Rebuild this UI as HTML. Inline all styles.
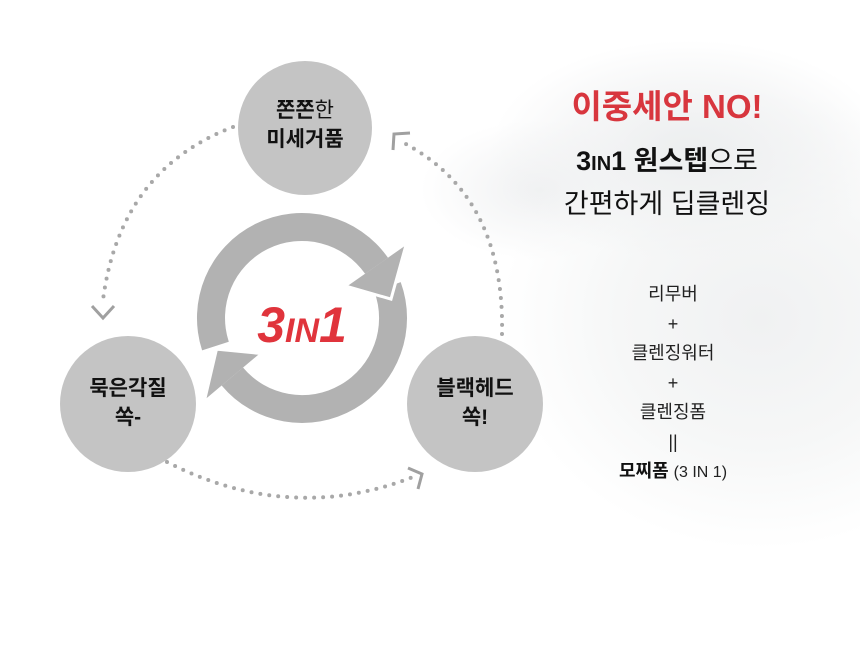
<!DOCTYPE html>
<html><head><meta charset="utf-8"><style>
body{margin:0;width:860px;height:647px;overflow:hidden;background:#fff;font-family:"Liberation Sans","Noto Sans CJK KR",sans-serif;position:relative}
.bg{position:absolute;left:0;top:0;width:860px;height:647px;
background:
radial-gradient(ellipse 200px 110px at 690px 150px,#eceeef 0%,rgba(240,241,242,.6) 60%,rgba(255,255,255,0) 100%),
radial-gradient(ellipse 260px 230px at 760px 320px,#f0f1f2 0%,#f6f7f7 55%,rgba(255,255,255,0) 100%),
radial-gradient(ellipse 120px 70px at 540px 190px,#f0f1f2 0%,rgba(255,255,255,0) 100%);}
.t{position:absolute;width:300px;text-align:center;color:#111;white-space:nowrap}
.c{position:absolute;width:140px;text-align:center;font-weight:bold;font-size:21px;color:#111;line-height:29px}
</style></head><body>
<div class="bg"></div>
<svg width="860" height="647" style="position:absolute;left:0;top:0">
<circle cx="305" cy="128" r="67" fill="#c4c4c4"/>
<circle cx="128" cy="404" r="68" fill="#c4c4c4"/>
<circle cx="475" cy="404" r="68" fill="#c4c4c4"/>
<g fill="none" stroke="#a8a8a8" stroke-width="4" stroke-linecap="round" stroke-dasharray="0 9">
<path d="M233,127 Q120,170 103,300"/>
<path d="M167,462 Q290,525 413,477"/>
<path d="M502,334 Q505,195 402,142"/>
</g>
<g fill="none" stroke="#a0a0a0" stroke-width="3">
<path d="M92,306 L103,318 L114,306"/>
<path d="M408,468 L422,474 L418,489"/>
<path d="M393,150 L394,134 L410,133"/>
</g>
<g fill="#b2b2b2">
<path d="M202.1,350.4 A105,105 0 0 1 388,257.8 L365.1,273.8 A77,77 0 0 0 228.8,341.8 Z"/>
<path d="M400.7,282.1 A105,105 0 0 1 221.6,385.5 L243,367.5 A77,77 0 0 0 374.4,291.7 Z"/>
<path d="M347,286.4 L406,245.1 L391,299.1 Z"/>
<path d="M259.9,353.4 L204.7,399.7 L216.5,349.1 Z"/>
</g>
<g fill="none" stroke="#fff" stroke-width="3">
<path d="M406,245.1 L391,299.1 L347,286.4"/>
<path d="M204.7,399.7 L216.5,349.1 L259.9,353.4"/>
</g>
<text x="302" y="342" text-anchor="middle" font-family="Liberation Sans,sans-serif" font-weight="bold" font-style="italic" fill="#e0343c" font-size="50">3<tspan font-size="34">IN</tspan>1</text>
</svg>
<div class="c" style="left:235px;top:96px">쫀쫀<span style="font-weight:normal">한</span><br>미세거품</div>
<div class="c" style="left:58px;top:374px">묵은각질<br>쏙-</div>
<div class="c" style="left:405px;top:374px">블랙헤드<br>쏙!</div>
<div class="t" style="left:517px;top:80px;font-size:33px;font-weight:bold;color:#d8363e">이중세안 NO!</div>
<div class="t" style="left:517px;top:139px;font-size:27px;font-weight:bold">3<span style="font-size:20px">IN</span>1 원스텝<span style="font-weight:normal">으로</span></div>
<div class="t" style="left:517px;top:182px;font-size:27px">간편하게 딥클렌징</div>
<div class="t" style="left:523px;top:280px;font-size:18px;line-height:29.5px;color:#222">리무버<br>+<br>클렌징워터<br>+<br>클렌징폼<br>||<br><b style="color:#111">모찌폼</b> <span style="font-size:16px">(3 IN 1)</span></div>
</body></html>
